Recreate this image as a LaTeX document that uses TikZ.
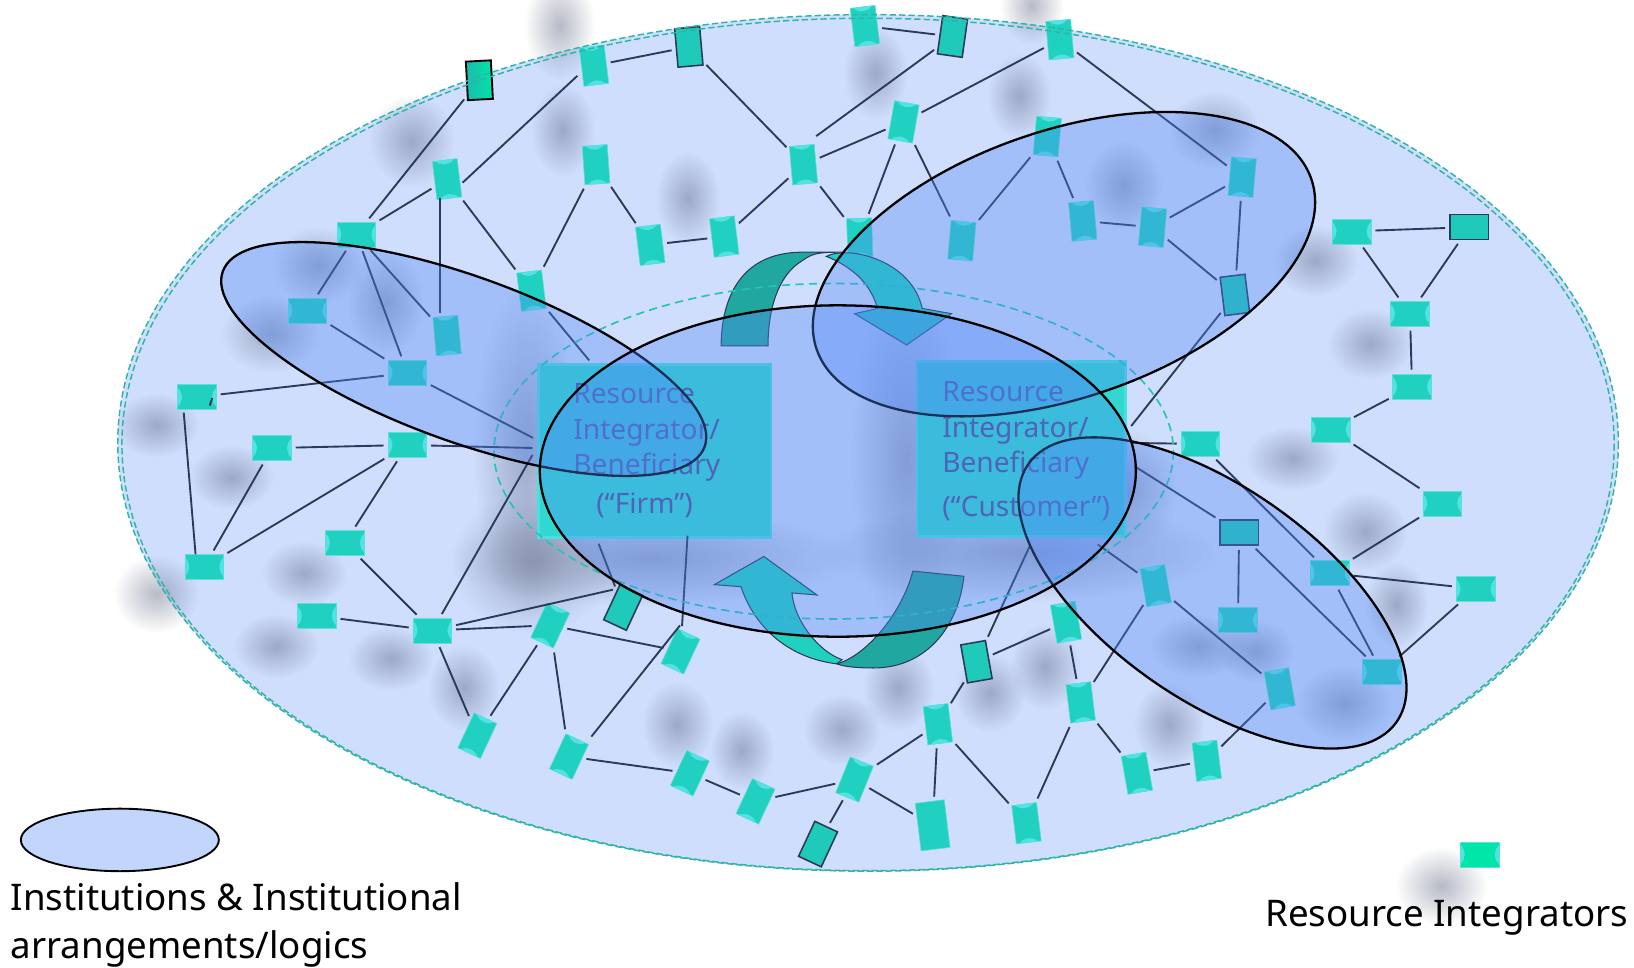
\documentclass[tikz,border=0pt]{standalone}
\usepackage{fontspec}
\setmainfont{Noto Sans}
\usetikzlibrary{fadings}
\definecolor{cbase}{HTML}{CFDEFD}
\definecolor{clobe}{HTML}{5188F7}
\definecolor{cteal}{HTML}{20D0C0}
\definecolor{cboxfill}{HTML}{30D8D0}
\definecolor{chl}{HTML}{52E2E4}
\definecolor{cdark}{HTML}{20A8A0}
\definecolor{cline}{HTML}{2A3A5A}
\definecolor{cdash}{HTML}{2FB5A5}
\definecolor{cgreen}{HTML}{00E5A8}
\definecolor{cboxedge}{HTML}{48E0E0}
\definecolor{ctxt}{HTML}{4F5098}
\definecolor{cblob}{HTML}{68708A}
\tikzfading[name=blobfade, inner color=transparent!52, outer color=transparent!100]
\tikzset{
  riitem/.style={rectangle, inner sep=0pt, minimum width=37, minimum height=24, fill=cteal, draw=cteal!70!white, line width=.6pt},
  ribord/.style={rectangle, inner sep=0pt, minimum width=37, minimum height=24, fill=cteal!97!black, draw=cline, line width=1.5pt},
  rihl/.style={fill=chl},
  link/.style={draw=cline, line width=1.8pt, shorten >=4pt, shorten <=4pt},
  lobe/.style={fill=clobe, fill opacity=.35, draw=black, line width=2.2pt},
  bigbox/.style={rectangle, inner sep=0pt, fill=cboxfill, draw=cboxedge, line width=2.5pt},
  boxtext/.style={inner sep=0pt, text=ctxt, font=\fontsize{27}{34}\selectfont, align=left, anchor=north west},
  legendtext/.style={inner sep=0pt, text=black, font=\fontsize{35.2}{46}\selectfont, align=left, anchor=north west},
  arrowlight/.style={fill=cteal, draw=cline, line width=1pt},
  arrowdark/.style={fill=cdark, draw=cline, line width=1pt},
  outerdash/.style={cdash, line width=1.4pt, dash pattern=on 6pt off 3pt},
}
\newcommand\ri[4]{%
  \node[riitem, rotate=#4] (#1) at (#2,#3) {};
  \begin{scope}[shift={(#2,#3)}, rotate=#4]
    \fill[rihl] (-18.5,-9) .. controls (-13,-4) and (-13,4) .. (-18.5,9) -- cycle;
    \fill[rihl] (18.5,-9) .. controls (13,-4) and (13,4) .. (18.5,9) -- cycle;
  \end{scope}}
\newcommand\rib[4]{\node[ribord, rotate=#4] (#1) at (#2,#3) {};}
\begin{document}
\begin{tikzpicture}[x=1pt,y=-1pt]
\useasboundingbox (0,0) rectangle (1568,928);
% outer field
\fill[cbase] (833,425) ellipse [x radius=720, y radius=411];
% soft shadows
\foreach \x/\y/\rx/\ry in {537/25/20/30, 990/5/18/22, 840/70/18/26, 978/92/18/24, 395/135/24/26, 540/125/18/26, 660/190/18/26, 1078/178/22/26, 1165/125/26/22, 1262/250/24/20, 1315/330/24/20, 305/255/26/22, 260/320/28/22, 370/290/22/30, 150/408/24/18, 222/458/24/18, 292/550/24/18, 150/570/24/22, 265/620/24/18, 375/632/24/18, 445/660/20/24, 505/430/30/95, 510/540/45/40, 625/535/115/28, 650/695/20/24, 712/720/18/22, 808/700/22/20, 862/660/20/24, 950/665/20/22, 1003/640/20/24, 1122/695/20/24, 1150/620/28/18, 1205/625/22/18, 1290/675/28/22, 1240/440/26/18, 1383/850/26/22, 1310/510/24/22, 870/440/32/100, 980/530/115/28, 1080/470/30/34, 1340/580/18/24}
  {\fill[cblob, path fading=blobfade] (\x,\y) ellipse [x radius={1.7*\rx}, y radius={1.7*\ry}];}
% resource integrators
\node[ribord, rotate=93, left color=cteal!90!black, right color=cgreen, draw=black, line width=1.8pt] (n1) at (460,77) {};
\ri{n2}{570}{63}{97}
\rib{n3}{661}{45}{95}
\ri{n4}{830}{25}{97}
\rib{n5}{914}{35}{82}
\ri{n6}{1017}{38}{95}
\ri{n7}{867}{117}{80}
\ri{n8}{771}{158}{95}
\ri{n9}{1005}{131}{85}
\ri{n10}{572}{158}{94}
\ri{n11}{429}{172}{97}
\ri{n12}{342}{225}{0}
\ri{n13}{295}{298}{0}
\ri{n14}{429}{322}{95}
\ri{n15}{391}{358}{0}
\ri{n16}{510}{279}{97}
\ri{n17}{624}{235}{97}
\ri{n18}{695}{227}{97}
\ri{n19}{825}{228}{92}
\ri{n20}{923}{231}{85}
\ri{n21}{1039}{212}{95}
\ri{n22}{1106}{218}{85}
\ri{n23}{1192}{170}{85}
\rib{n24}{1185}{283}{97}
\ri{n25}{1297}{222}{0}
\rib{n26}{1410}{218}{0}
\ri{n27}{1353}{301}{0}
\ri{n28}{1355}{371}{0}
\ri{n29}{1277}{412}{0}
\ri{n30}{1384}{483}{0}
\ri{n31}{1152}{426}{0}
\rib{n32}{1189}{511}{0}
\ri{n33}{1276}{550}{0}
\ri{n34}{1416}{565}{0}
\ri{n35}{1188}{595}{0}
\ri{n36}{1109}{562}{100}
\ri{n37}{1326}{645}{0}
\ri{n38}{1228}{661}{100}
\ri{n39}{1023}{597}{100}
\rib{n40}{937}{635}{100}
\ri{n41}{1037}{674}{97}
\ri{n42}{1158}{730}{97}
\ri{n43}{1091}{742}{100}
\ri{n44}{985}{790}{97}
\ri{n45}{900}{695}{97}
\node[riitem, rotate=97, minimum width=46, minimum height=28] (n46) at (895,792) {};
\ri{n47}{820}{748}{68}
\rib{n48}{785}{810}{65}
\ri{n49}{725}{769}{65}
\ri{n50}{662}{742}{65}
\ri{n51}{546}{726}{65}
\ri{n52}{458}{706}{65}
\ri{n53}{528}{600}{65}
\rib{n54}{598}{583}{65}
\ri{n55}{653}{625}{65}
\ri{n56}{415}{605}{0}
\ri{n57}{304}{591}{0}
\ri{n58}{331}{521}{0}
\ri{n59}{391}{427}{0}
\ri{n60}{261}{430}{0}
\ri{n61}{196}{544}{0}
\ri{n62}{189}{381}{0}
% the two large boxes
\node[bigbox, minimum width=223, minimum height=166] (firm) at (628.5,433) {};
\node[bigbox, minimum width=200, minimum height=168] (cust) at (980,431) {};
% free ends of connectors
\coordinate (fa) at (515,422);
\coordinate (fb) at (515,430);
\coordinate (fc) at (513,433);
\coordinate (fd) at (568,349);
\coordinate (fe) at (573,518);
\coordinate (ff) at (660,510);
\coordinate (fg) at (655,597);
\coordinate (ca) at (1083,412);
\coordinate (cb) at (1083,425);
\coordinate (cc) at (1085,445);
\coordinate (cd) at (1050,520);
\coordinate (ce) at (990,520);
\coordinate (sa) at (855,617);
\coordinate (sb) at (903,608);
\coordinate (ta) at (200,393);
\coordinate (tb) at (205,378);
\coordinate (e11r) at (441,178);
\coordinate (e2l) at (557,70);
\coordinate (e8a) at (780,133);
\coordinate (e11b) at (422,186);
\coordinate (e14t) at (422,304);
\coordinate (e62b) at (176,392);
\coordinate (e61t) at (188,536);
\coordinate (e54l) at (592,565);
\coordinate (e51r) at (565,710);
% connectors
\foreach \a/\b in {n1/n12,e2l/e11r,n2/n3,n3/n8,n4/n5,n5/e8a,n6/n7,n7/n8,n6/n23,n7/n19,n7/n20,n8/n18,n8/n19,n9/n20,n9/n21,n21/n22,n22/n23,n23/n24,n22/n24,n10/n16,n10/n17,n17/n18,n11/n12,e11b/e14t,n11/n16,n12/n13,n12/n15,n12/n14,n13/n15,n15/n62,n15/fa,n16/fd,n59/n60,n59/fb,n60/n61,e62b/e61t,n59/n61,n59/n58,n58/n56,n57/n56,n56/fc,n56/e54l,n56/n53,n53/n55,n53/n52,n53/n51,n56/n52,e51r/fg,n55/ff,n54/fe,n51/n50,n50/n49,n49/n47,n48/n47,n47/n46,n47/n45,n45/n46,n45/n44,n45/n40,n40/n39,n40/ce,n39/n41,n41/n36,n41/n44,n41/n43,n43/n42,n42/n38,n36/cd,n36/n38,n32/n35,n32/n37,n32/cc,n31/cb,n24/ca,n31/n33,n33/n30,n33/n34,n33/n37,n34/n37,n29/n30,n28/n29,n27/n28,n25/n27,n26/n27,n25/n26,sa/sb,ta/tb}
  {\draw[link] (\a) -- (\b);}
% box labels
\node[boxtext] (firmtext) at (550,368) {Resource\\Integrator/\\Beneficiary\\[3pt]\hspace*{22pt}(“Firm”)};
\node[boxtext] (custtext) at (904,366) {Resource\\Integrator/\\Beneficiary\\[8pt](“Customer”)};
% curved arrows
\draw[arrowdark] (692,332) .. controls (692,295) and (705,242) .. (770,242) -- (808,242)
  .. controls (785,242) and (780,243) .. (770,250) .. controls (745,265) and (737,300) .. (737,332) -- cycle;
\draw[arrowlight] (793,246) .. controls (815,235) and (875,250) .. (885,296) -- (913,301) -- (870,331) -- (820,301) -- (842,296)
  .. controls (835,270) and (815,255) .. (793,246) -- cycle;
\draw[arrowdark] (876,548) -- (925,553) .. controls (920,600) and (890,641) .. (838,641)
  .. controls (825,641) and (810,640) .. (803,637) .. controls (830,630) and (865,590) .. (876,548) -- cycle;
\draw[arrowlight] (733,534) -- (784,571) -- (760,569) .. controls (762,595) and (785,625) .. (808,633)
  -- (803,637) .. controls (760,632) and (725,605) .. (711,563) -- (685.5,561) -- cycle;
% inner dashed ellipse
\draw[cdash!80!cyan, line width=1.6pt, dash pattern=on 8pt off 5pt] (800,433) ellipse [x radius=326, y radius=161];
% outer dashed double outline
\draw[outerdash] (833,425) ellipse [x radius=720, y radius=411];
\draw[outerdash] (833,426.5) ellipse [x radius=716, y radius=409];
% institutional arrangements
\begin{scope}[shift={(445,344.5)}, rotate=-20]
  \path[lobe] (0,0) ellipse [x radius=246, y radius=79];
\end{scope}
\begin{scope}[shift={(1021,253.5)}, rotate=19]
  \path[lobe] (0,0) ellipse [x radius=251, y radius=128];
\end{scope}
\begin{scope}[shift={(1163.5,569)}, rotate=-35]
  \path[lobe] (0,0) ellipse [x radius=215.7, y radius=102];
\end{scope}
\path[lobe] (804,452) ellipse [x radius=286, y radius=159];
% legend
\draw[fill=clobe!35!white, draw=black, line width=1.8pt] (115,806) ellipse [x radius=95, y radius=30];
\node[legendtext] (legi) at (10,847) {Institutions \& Institutional\\arrangements/logics};
\node[riitem, fill=cgreen] (legr) at (1420,820) {};
\fill[rihl] (1401.5,811) .. controls (1407,816) and (1407,824) .. (1401.5,829) -- cycle;
\fill[rihl] (1438.5,811) .. controls (1433,816) and (1433,824) .. (1438.5,829) -- cycle;
\node[legendtext] (legt) at (1214,864) {Resource Integrators};
\end{tikzpicture}
\end{document}
